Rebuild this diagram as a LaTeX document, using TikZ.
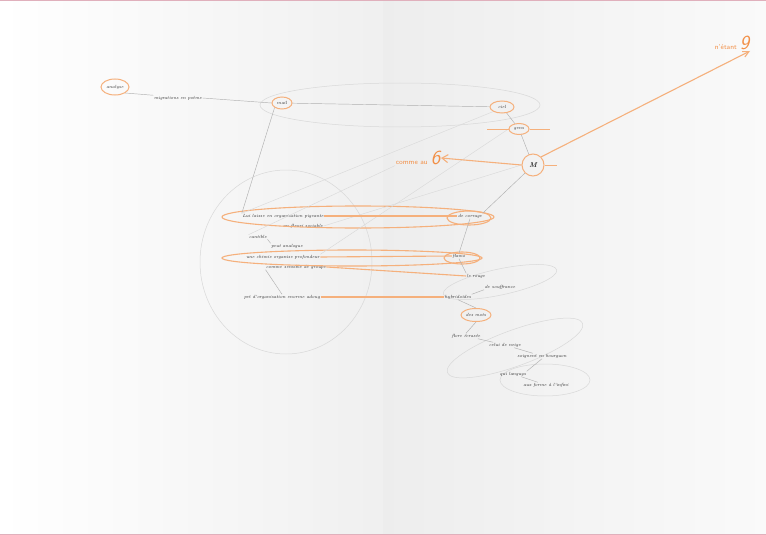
\documentclass[tikz,border=0pt]{standalone}
\usetikzlibrary{arrows.meta,shapes.geometric}
\definecolor{org}{HTML}{F29048}
\definecolor{lorg}{HTML}{F5B07C}
\definecolor{gl}{HTML}{B0B0B0}
\definecolor{ggl}{HTML}{D8D8D8}
\definecolor{pinkedge}{HTML}{E0B0BC}
\begin{document}
\begin{tikzpicture}[x=1pt,y=-1pt,
  txt/.style={font=\fontsize{4.5}{5}\selectfont\itshape, text=black!85, inner sep=0.5pt},
  oell/.style={draw=lorg, line width=1pt, ellipse, inner sep=1pt},
  gline/.style={gl, line width=0.45pt},
  gell/.style={ggl, line width=0.5pt},
  oline/.style={lorg, line width=1.1pt},
  othin/.style={lorg, line width=0.7pt},
  big/.style={font=\sffamily\fontsize{9}{10}\selectfont, text=org, inner sep=0.5pt}
]
\useasboundingbox (0,0) rectangle (766,535);
% page background
\shade[left color=white, right color=black!6] (0,0) rectangle (383,535);
\shade[left color=black!7, right color=black!2] (383,0) rectangle (766,535);
\fill[pinkedge] (0,0) rectangle (766,1.5);
\fill[pinkedge] (0,533.5) rectangle (766,535);

% big grey ellipses
\draw[gell] (400,105) ellipse (140 and 22);
\draw[gell] (286,262) ellipse (86 and 92);
\draw[gell, rotate around={12:(500,282)}] (500,282) ellipse (58 and 13);
\draw[gell, rotate around={20:(515,348)}] (515,348) ellipse (72 and 18);
\draw[gell] (545,380) ellipse (45 and 16);

% nodes
\node[oell, txt, minimum width=28pt, minimum height=16pt] (an) at (115,87) {analyse};
\node[txt] (mig) at (178,98) {migrations en poème};
\node[oell, txt, minimum width=20pt, minimum height=12pt] (mail) at (282,103) {mail};
\node[oell, txt, minimum width=24pt, minimum height=12pt] (ciel) at (502,107) {ciel};
\node[oell, txt, minimum width=20pt, minimum height=11pt] (gens) at (519,129) {gens};
\node[draw=lorg, line width=1pt, circle, txt, minimum size=22pt] (M) at (533,165) {\fontsize{7}{7}\selectfont\bfseries M};
\node[big, anchor=east] (six) at (441,158) {{\fontsize{7}{7}\selectfont comme au} {\fontsize{20}{20}\selectfont\itshape 6}};
\node[big, anchor=south east] (neuf) at (750,51) {{\fontsize{7}{7}\selectfont n'étant} {\fontsize{20}{20}\selectfont\itshape 9}};

\node[txt] (l1) at (283,216) {Lui laisse en organisation pigeante};
\node[txt] (l1b) at (303,226) {un fleuri sociable};
\node[txt] (cor) at (470,216) {de corrage};
\node[txt] (cant) at (258,237) {cantible};
\node[txt] (peut) at (287,246) {peut analogue};
\node[txt] (l3) at (283,257) {une chimie organise profondeur};
\node[txt] (fla) at (459,256) {flamo};
\node[txt] (l3b) at (296,267) {comme sensible de groupe};
\node[txt] (rou) at (476,276) {le rouge};
\node[txt] (sou) at (500,287) {de souffrance};
\node[txt] (pet) at (282,297) {pet d'organisation enorme adoug};
\node[txt] (hyb) at (458,297) {hybridoïdes};
\node[oell, txt, minimum width=26pt, minimum height=13pt] (mots) at (476,315) {des mots};
\node[txt] (flo) at (466,336) {flore écrasée};
\node[txt] (nei) at (505,345) {celui de neige};
\node[txt] (bou) at (542,356) {soignent en bourguon};
\node[txt] (lan) at (513,374) {qui languys};
\node[txt] (inf) at (546,385) {aux forme à l'infini};

% orange ellipses around rows
\draw[oline] (358,217) ellipse (136 and 11);
\draw[oline] (469,218) ellipse (22 and 7);
\draw[oline] (352,258) ellipse (130 and 8);
\draw[oline] (462,258) ellipse (18 and 6);

% grey connectors
\draw[gline] (an.south east) -- (mig.north west);
\draw[gline] (mig.east) -- (mail.west);
\draw[gline] (mail) -- (ciel);
\draw[gline] (mail.south west) -- (l1.north west);
\draw[gline] (ciel) -- (gens);
\draw[gline] (gens) -- (M);
\draw[gline] (M.south west) -- (cor.north east);
\draw[gline] (cor.south) -- (fla.north);
\draw[gline] (fla.south) -- (rou.north west);
\draw[gline] (sou.south west) -- (hyb.north east);
\draw[gline] (hyb.south) -- (mots.north);
\draw[gline] (mots.south) -- (flo.north);
\draw[gline] (flo) -- (nei);
\draw[gline] (nei) -- (bou);
\draw[gline] (bou.south) -- (lan.north east);
\draw[gline] (lan) -- (inf);
\draw[gline] (cant.south east) -- (peut.north west);
\draw[gline] (l3b.south west) -- (pet.north);
\draw[ggl, line width=0.4pt] (l1.north west) -- (ciel.south west);
\draw[ggl, line width=0.4pt] (cant.north west) -- (six.south west);
\draw[ggl, line width=0.4pt] (l3.north east) -- (gens.west);
\draw[ggl, line width=0.4pt] (l1b.east) -- (M.west);

% orange connectors
\draw[oline] (l1.east) -- (cor.west);
\draw[oline] (l3.east) -- (fla.west);
\draw[oline] (l3b.east) -- (rou.west);
\draw[oline] (pet.east) -- (hyb.west);
\draw[othin] (gens.west) -- ++(-22,0);
\draw[othin] (gens.east) -- ++(20,0);
\draw[oline, -{Straight Barb[length=6pt, width=8pt]}] (M.west) -- (six.east);
\draw[othin] (M.east) -- ++(12,0);
\draw[oline, -{Straight Barb[length=6pt, width=6pt]}] (M.north east) -- (neuf.south east);
\end{tikzpicture}
\end{document}
